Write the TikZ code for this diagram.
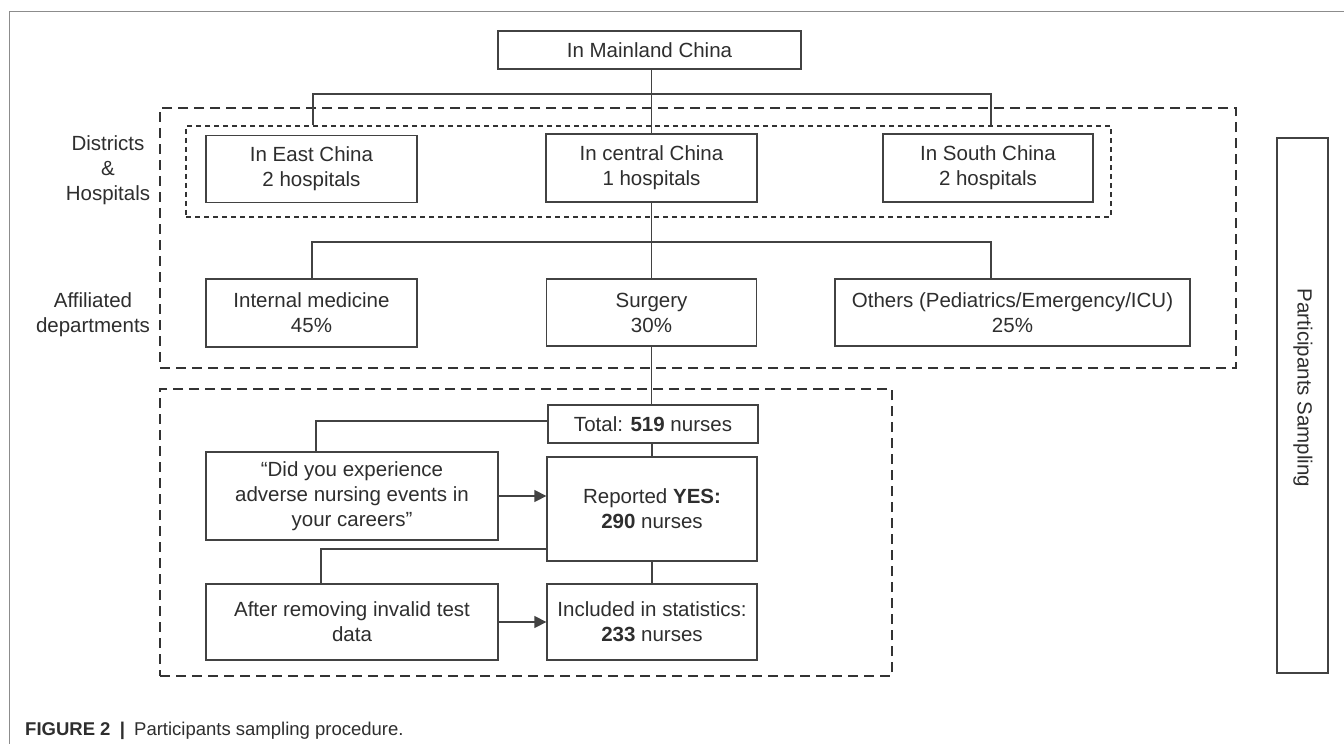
\documentclass[tikz,border=0pt]{standalone}
\usepackage{fontspec}
\setmainfont{Liberation Sans}
\usetikzlibrary{arrows.meta,calc}
\definecolor{ln}{HTML}{424242}
\definecolor{dk}{HTML}{333333}
\definecolor{tx}{HTML}{2E2E2E}
\definecolor{fr}{HTML}{8C8C8C}
\begin{document}
\begin{tikzpicture}[x=1pt,y=-1pt,
  box/.style={draw=ln,line width=1.3pt,text=tx,align=center,inner sep=0pt,font=\fontsize{20.5}{25}\selectfont},
  lbl/.style={text=tx,align=center,inner sep=0pt,font=\fontsize{20.5}{25}\selectfont},
  conn/.style={draw=ln,line width=1.3pt},
  arr/.style={conn,-{Triangle[length=12pt,width=12pt]}},
  grpA/.style={draw=dk,line width=2.6pt,dash pattern=on 10pt off 6pt,inner sep=0pt},
  grpD/.style={draw=dk,line width=1.3pt,dash pattern=on 5pt off 4pt,inner sep=0pt}]
\useasboundingbox[fill=white] (0,0) rectangle (1344,744);
% frame
\draw[fr,line width=1pt] (9,744) -- (9,11) -- (1344,11);
% groups
\node[grpA,minimum width=1076pt,minimum height=260pt] (grpA) at (698,238) {};
\node[grpD,minimum width=925pt,minimum height=91pt] (dist) at (648.5,171.5) {};
\node[grpA,minimum width=732pt,minimum height=287pt] (grpB) at (526,532.5) {};
% boxes
\node[box,minimum width=303pt,minimum height=38pt] (main) at (649.5,50) {In Mainland China};
\node[box,minimum width=211pt,minimum height=67pt] (east) at (311.5,169) {In East China\\2 hospitals};
\node[box,minimum width=211pt,minimum height=68pt] (central) at (651.5,168) {In central China\\1 hospitals};
\node[box,minimum width=210pt,minimum height=68pt] (south) at (988,168) {In South China\\2 hospitals};
\node[box,minimum width=211pt,minimum height=68pt] (internal) at (311.5,313) {Internal medicine\\45\%};
\node[box,minimum width=210pt,minimum height=67pt] (surgery) at (651.5,312.5) {Surgery\\30\%};
\node[box,minimum width=355pt,minimum height=67pt] (others) at (1012.5,312.5) {Others (Pediatrics/Emergency/ICU)\\25\%};
\node[box,minimum width=210pt,minimum height=38pt] (total) at (653,424) {Total: \textbf{519} nurses};
\node[box,minimum width=292pt,minimum height=88pt] (didyou) at (352,496) {\char"201C Did you experience\\adverse nursing events in\\your careers\char"201D};
\node[box,minimum width=210pt,minimum height=104pt] (reported) at (652,509) {Reported \textbf{YES:}\\\textbf{290} nurses};
\node[box,minimum width=292pt,minimum height=76pt] (after) at (352,622) {After removing invalid test\\data};
\node[box,minimum width=210pt,minimum height=76pt] (included) at (652,622) {Included in statistics:\\\textbf{233} nurses};
\node[box,minimum width=51pt,minimum height=535pt] (psbox) at (1302.5,405.5) {};
\node[lbl,rotate=-90] (pslbl) at (1303,388) {Participants Sampling};
% side labels
\node[lbl] (dh) at (108,170) {Districts\\\&\\Hospitals};
\node[lbl] (ad) at (93,314.5) {Affiliated\\departments};
% connectors
\coordinate (jL) at (313,94);
\coordinate (jR) at (991,94);
\draw[conn] (main.south -| central.north) -- (central.north);
\draw[conn] (jL |- dist.north) -- (jL) -- (jR) -- (jR |- dist.north);
\coordinate (kL) at (312,242);
\coordinate (kR) at (991,242);
\draw[conn] (central.south) -- (surgery.north);
\draw[conn] (kL |- internal.north) -- (kL) -- (kR) -- (kR |- others.north);
\draw[conn] (surgery.south) -- (surgery.south |- total.north);
\coordinate (mL) at (316,421);
\draw[conn] (total.west |- mL) -- (mL) -- (mL |- didyou.north);
\draw[conn] (total.south -| reported.north) -- (reported.north);
\draw[arr] (didyou.east) -- (didyou.east -| reported.west);
\coordinate (nL) at (321,549);
\draw[conn] (reported.west |- nL) -- (nL) -- (nL |- after.north);
\draw[conn] (reported.south) -- (included.north);
\draw[arr] (after.east) -- (after.east -| included.west);
% caption
\node[anchor=base west,inner sep=0pt,text=tx,font=\fontsize{18.5}{22}\selectfont] (cap) at (25,735) {\textbf{FIGURE 2}\enspace\textbf{|}\enspace Participants sampling procedure.};
\end{tikzpicture}
\end{document}
